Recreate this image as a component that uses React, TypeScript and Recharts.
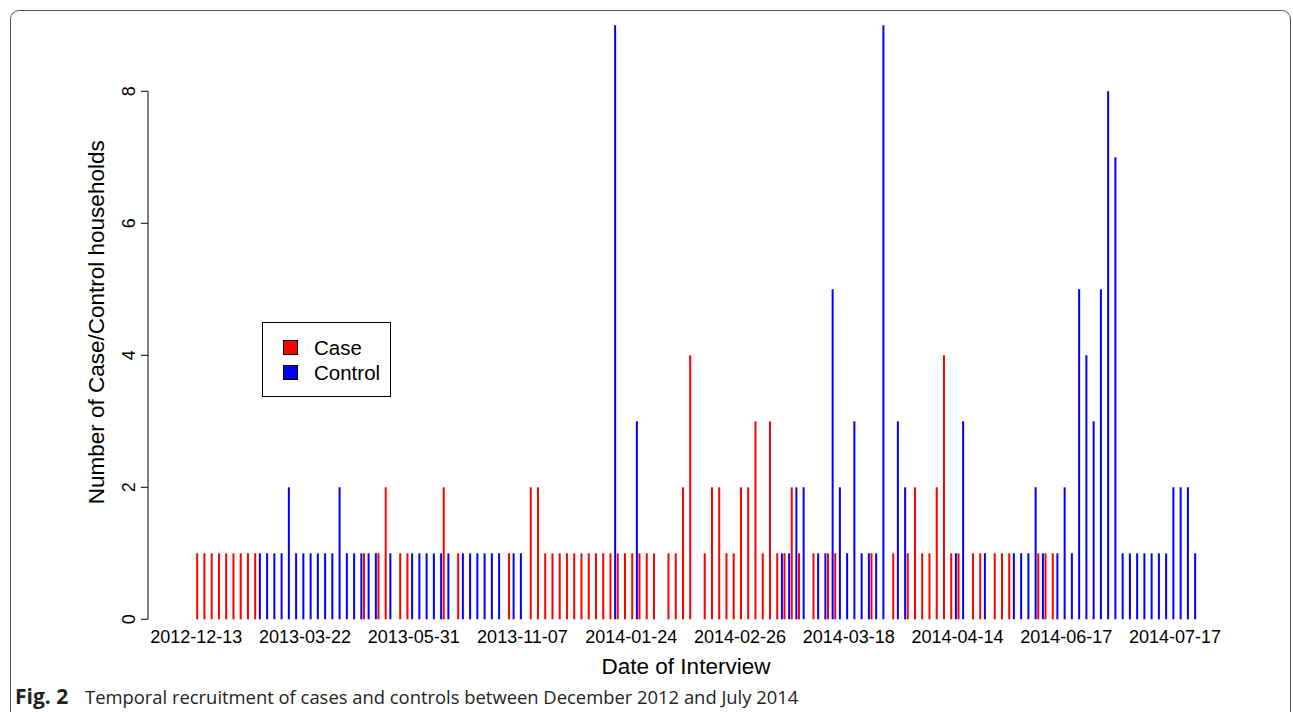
import React from "react";
import {
  BarChart, Bar, XAxis, YAxis, Legend, ReferenceLine,
} from "recharts";

// one slot per interview date (unique dates in order), labels every 15th date
const caseCounts = [
  1, 1, 1, 1, 1, 1, 1, 1, 1, 0, 0, 0, 0, 0, 0,
  0, 0, 0, 0, 0, 0, 0, 0, 1, 0, 1, 2, 0, 1, 1,
  0, 0, 0, 0, 2, 0, 1, 0, 0, 0, 0, 0, 0, 1, 0,
  0, 2, 2, 1, 1, 1, 1, 1, 1, 1, 1, 1, 1, 1, 1,
  1, 1, 1, 1, 0, 1, 1, 2, 4, 0, 1, 2, 2, 1, 1,
  2, 2, 3, 1, 3, 1, 1, 2, 1, 0, 1, 0, 1, 1, 0,
  0, 0, 0, 1, 0, 0, 1, 0, 1, 2, 1, 1, 2, 4, 1,
  1, 0, 1, 1, 0, 1, 1, 1, 0, 0, 0, 1, 1, 1, 0,
  0, 0, 0, 0, 0, 0, 0, 0, 0, 0, 0, 0, 0, 0, 0,
  0, 0, 0, 0,
];

const controlCounts = [
  0, 0, 0, 0, 0, 0, 0, 0, 0, 1, 1, 1, 1, 2, 1,
  1, 1, 1, 1, 1, 2, 1, 1, 1, 1, 1, 0, 1, 0, 0,
  1, 1, 1, 1, 1, 1, 0, 1, 1, 1, 1, 1, 1, 0, 1,
  1, 0, 0, 0, 0, 0, 0, 0, 0, 0, 0, 0, 0, 9, 0,
  0, 3, 0, 0, 0, 0, 0, 0, 0, 0, 0, 0, 0, 0, 0,
  0, 0, 0, 0, 0, 0, 1, 1, 2, 2, 0, 1, 1, 5, 2,
  1, 3, 1, 1, 1, 9, 0, 3, 2, 0, 0, 0, 0, 0, 0,
  1, 3, 0, 0, 1, 0, 0, 0, 1, 1, 1, 2, 1, 0, 1,
  2, 1, 5, 4, 3, 5, 8, 7, 1, 1, 1, 1, 1, 1, 1,
  2, 2, 2, 1,
];

const tickSlots = [0, 15, 30, 45, 60, 75, 90, 105, 120, 135];
const tickLabels = [
  "2012-12-13", "2013-03-22", "2013-05-31", "2013-11-07", "2014-01-24",
  "2014-02-26", "2014-03-18", "2014-04-14", "2014-06-17", "2014-07-17",
];
const yTicks = [0, 2, 4, 6, 8];
const legendOrder = ["Case", "Control"];

const data = caseCounts.map((c, i) => ({
  slot: i,
  case: c,
  control: controlCounts[i],
}));

const FONT = "'Liberation Sans', Arial, Helvetica, sans-serif";

function fmtSlot(v: number) {
  const k = tickSlots.indexOf(v);
  return k >= 0 ? tickLabels[k] : "";
}

function YTick({ x, y, payload }: any) {
  const bx = x - 4;
  return (
    <text
      x={bx}
      y={y}
      transform={`rotate(-90 ${bx} ${y})`}
      textAnchor="middle"
      fontSize={18}
      fontFamily={FONT}
      fill="#000"
    >
      {payload.value}
    </text>
  );
}

function LegendBox({ payload }: any) {
  const items = [...(payload || [])].sort(
    (a: any, b: any) => legendOrder.indexOf(a.value) - legendOrder.indexOf(b.value)
  );
  return (
    <div
      style={{
        border: "1px solid #000",
        width: 129,
        height: 75,
        boxSizing: "border-box",
        padding: "12px 0 0 20px",
        background: "#fff",
        fontFamily: FONT,
        fontSize: 20.5,
      }}
    >
      {items.map((it: any) => (
        <div key={it.value} style={{ display: "flex", alignItems: "center", height: 25 }}>
          <span
            style={{
              display: "inline-block",
              width: 13,
              height: 13,
              background: it.color,
              border: "1px solid #000",
              marginRight: 16,
            }}
          />
          <span>{it.value}</span>
        </div>
      ))}
    </div>
  );
}

export default function App() {
  return (
    <div style={{ position: "absolute", left: 0, top: 0, width: 1293, height: 712, background: "#fff", overflow: "hidden" }}>
      <div
        style={{
          position: "absolute",
          left: 10,
          top: 10,
          width: 1281,
          height: 800,
          border: "1px solid #555",
          borderRadius: 9,
          boxSizing: "border-box",
        }}
      />
      <div style={{ position: "absolute", left: 0, top: 0 }}>
        <BarChart
          width={1293}
          height={712}
          data={data}
          margin={{ top: 25.3, right: 69, bottom: 32.7, left: 0 }}
          barSize={2}
          barGap={0.6}
        >
          <XAxis
            dataKey="slot"
            type="category"
            interval={0}
            tickLine={false}
            axisLine={false}
            tickSize={6}
            tickMargin={5}
            height={60}
            padding={{ left: 44.6, right: 23.6 }}
            tickFormatter={fmtSlot}
            tick={{ fontSize: 18, fontFamily: FONT, fill: "#000" }}
            label={{
              value: "Date of Interview",
              position: "insideBottom",
              offset: 5,
              style: { fontSize: 22.5, fontFamily: FONT, fill: "#000" },
            }}
          />
          <XAxis xAxisId="axis" type="number" domain={[0, 1]} hide />
          <YAxis
            width={148}
            domain={[0, 9]}
            ticks={yTicks}
            interval={0}
            axisLine={false}
            tickLine={{ stroke: "#000" }}
            tickSize={7}
            tick={<YTick />}
            label={{
              value: "Number of Case/Control households",
              angle: -90,
              position: "center",
              dx: 22,
              style: { fontSize: 22.5, fontFamily: FONT, fill: "#000", textAnchor: "middle" },
            }}
          />
          <ReferenceLine
            xAxisId="axis"
            segment={[{ x: 0, y: 0 }, { x: 0, y: 8 }]}
            stroke="#000"
            ifOverflow="visible"
          />
          <Bar dataKey="control" name="Control" fill="#0000ff" isAnimationActive={false} />
          <Bar dataKey="case" name="Case" fill="#ff0000" isAnimationActive={false} />
          <Legend
            layout="horizontal"
            align="center"
            verticalAlign="middle"
            wrapperStyle={{ left: 262, top: 322, width: 129, height: 75 }}
            content={<LegendBox />}
          />
        </BarChart>
      </div>
      <div
        style={{
          position: "absolute",
          left: 15,
          top: 682,
          fontFamily: "'Open Sans', 'Noto Sans', sans-serif",
          fontSize: 18.4,
          color: "#222",
          whiteSpace: "nowrap",
        }}
      >
        <b style={{ display: "inline-block", width: 70, fontSize: 21 }}>Fig. 2</b>
        <span>
          Temporal recruitment of cases and controls between December 2012 and July 2014
        </span>
      </div>
    </div>
  );
}
